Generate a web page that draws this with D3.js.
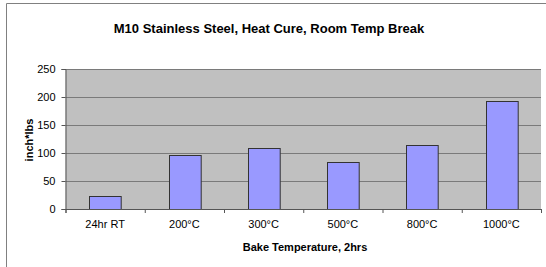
<!DOCTYPE html>
<html>
<head>
<meta charset="utf-8">
<script src="https://cdn.jsdelivr.net/npm/d3@7"></script>
<style>
  body { margin: 0; background: #fff; }
  text { font-family: "Liberation Sans", Arial, sans-serif; fill: #000; }
</style>
</head>
<body>
<div id="chart"></div>
<script>
// data
var categories = ["24hr RT", "200°C", "300°C", "500°C", "800°C", "1000°C"];
var torque = [24, 96, 109, 84, 115, 193];
var yTicks = [0, 50, 100, 150, 200, 250];

var width = 546, height = 267;
// plot area edges (don't call it "top", that's window.top)
var plotLeft = 65.5, plotRight = 541, plotTop = 69, plotBottom = 209;

var svg = d3.select("#chart").append("svg")
  .attr("width", width)
  .attr("height", height);

// outer frame of the chart object
svg.append("path")
  .attr("d", "M6.5," + height + "V3.5H" + width)
  .attr("fill", "none")
  .attr("stroke", "#808080");

var x = d3.scaleBand().domain(categories).range([plotLeft, plotRight]).paddingInner(0.6).paddingOuter(0.3);
var xTicks = d3.scaleLinear().domain([0, categories.length]).range([plotLeft, plotRight]);
var y = d3.scaleLinear().domain([0, 250]).range([plotBottom, plotTop]);

// plot area
svg.append("rect")
  .attr("x", plotLeft).attr("y", plotTop)
  .attr("width", plotRight - plotLeft).attr("height", plotBottom - plotTop)
  .attr("fill", "#c0c0c0");

// gridlines
svg.selectAll(".grid").data(yTicks.slice(1))
  .enter().append("line")
  .attr("x1", plotLeft).attr("x2", plotRight)
  .attr("y1", function(d) { return Math.round(y(d)) + 0.5; })
  .attr("y2", function(d) { return Math.round(y(d)) + 0.5; })
  .attr("stroke", "#7a7a7a");

// bars
svg.selectAll(".bar").data(torque)
  .enter().append("rect")
  .attr("x", function(d, i) { return Math.round(x(categories[i])) + 0.5; })
  .attr("y", function(d) { return Math.round(y(d)) + 0.5; })
  .attr("width", x.bandwidth())
  .attr("height", function(d) { return Math.round(y(0)) - Math.round(y(d)); })
  .attr("fill", "#9999ff")
  .attr("stroke", "#333333");

// y axis
var yAxis = d3.axisLeft(y).tickValues(yTicks).tickSize(4).tickPadding(6);
var gy = svg.append("g")
  .attr("transform", "translate(" + plotLeft + ",0)")
  .call(yAxis);
gy.selectAll("text").style("font-size", "11px").attr("fill", "#000");
gy.selectAll("line, path").attr("stroke", "#555");

// x axis with ticks between categories
var xAxis = d3.axisBottom(xTicks).ticks(categories.length).tickSize(4).tickFormat("");
var gx = svg.append("g")
  .attr("transform", "translate(0," + plotBottom + ")")
  .call(xAxis);
gx.selectAll("line, path").attr("stroke", "#555");

svg.selectAll(".xlabel").data(categories)
  .enter().append("text")
  .attr("x", function(d) { return x(d) + x.bandwidth() / 2; })
  .attr("y", 228)
  .attr("text-anchor", "middle")
  .style("font-size", "11px")
  .text(function(d) { return d; });

// titles
svg.append("text")
  .attr("x", 269).attr("y", 33)
  .attr("text-anchor", "middle")
  .style("font-size", "13px").style("font-weight", "bold")
  .text("M10 Stainless Steel, Heat Cure, Room Temp Break");

svg.append("text")
  .attr("x", 305).attr("y", 251)
  .attr("text-anchor", "middle")
  .style("font-size", "11px").style("font-weight", "bold")
  .text("Bake Temperature, 2hrs");

svg.append("text")
  .attr("transform", "translate(33,140)rotate(-90)")
  .attr("text-anchor", "middle")
  .style("font-size", "11px").style("font-weight", "bold")
  .text("inch*lbs");
</script>
</body>
</html>
